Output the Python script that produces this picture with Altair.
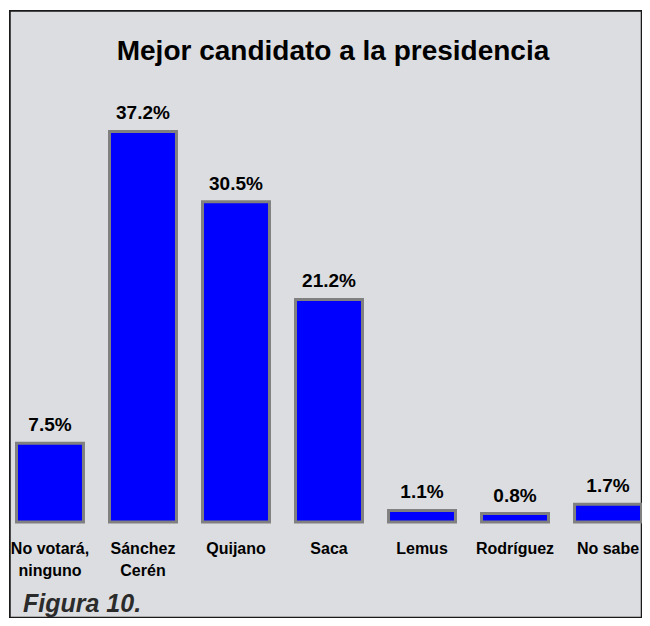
import altair as alt
import pandas as pd

categories = ["No votará,|ninguno", "Sánchez|Cerén", "Quijano", "Saca", "Lemus", "Rodríguez", "No sabe"]
values = [7.5, 37.2, 30.5, 21.2, 1.1, 0.8, 1.7]
labels = [f"{v:.1f}%" for v in values]

df = pd.DataFrame({"cat": categories, "val": values, "lab": labels})

NARROW = "Liberation Sans Narrow, Arial Narrow, Liberation Sans, Arial"

x_enc = alt.X(
    "cat:N",
    sort=categories,
    scale=alt.Scale(paddingInner=0.28, paddingOuter=0),
    axis=alt.Axis(
        title="Figura 10.",
        zindex=1,
        labelExpr="split(datum.label, '|')",
        labelAngle=0,
        labelFont=NARROW,
        labelFontWeight="bold",
        labelFontSize=16,
        labelColor="black",
        labelPadding=18,
        labelLineHeight=22,
        domain=False,
        ticks=False,
        grid=False,
        titleX=6,
        titleY=89,
        titleAlign="left",
        titleAnchor="start",
        titleBaseline="alphabetic",
        titleFont="Liberation Sans, Arial",
        titleFontStyle="italic",
        titleFontWeight="bold",
        titleFontSize=25,
        titleColor="#2b2b2b",
    ),
)
y_enc = alt.Y("val:Q", scale=alt.Scale(domain=[0, 40]), axis=None)

frame = alt.Chart(df).mark_rect(fill="#dcdde0", stroke="#1a1a1a", strokeWidth=1.5).encode(
    x=alt.value(-6.5), x2=alt.value(625), y=alt.value(-91), y2=alt.value(515.5)
)

bars = alt.Chart(df).mark_bar(color="#0000ff", stroke="#808080", strokeWidth=3).encode(
    x=x_enc, y=y_enc
)

text = alt.Chart(df).mark_text(
    dy=-12, baseline="alphabetic", font=NARROW, fontWeight="bold", fontSize=19, color="black"
).encode(x=alt.X("cat:N", sort=categories), y="val:Q", text="lab:N")

chart = alt.layer(frame, bars, text).properties(
    width=625,
    height=420,
    background="white",
    padding={"left": 8.5, "top": 94, "right": 0.5, "bottom": 96},
    autosize=alt.AutoSizeParams(type="none"),
    title=alt.TitleParams(
        "Mejor candidato a la presidencia",
        font=NARROW,
        fontWeight="bold",
        fontSize=28,
        color="black",
        anchor="middle",
        offset=-56,
        dx=4,
    ),
).configure_view(stroke=None)

chart.save("out.html", embed_options={"renderer": "svg", "actions": False})
